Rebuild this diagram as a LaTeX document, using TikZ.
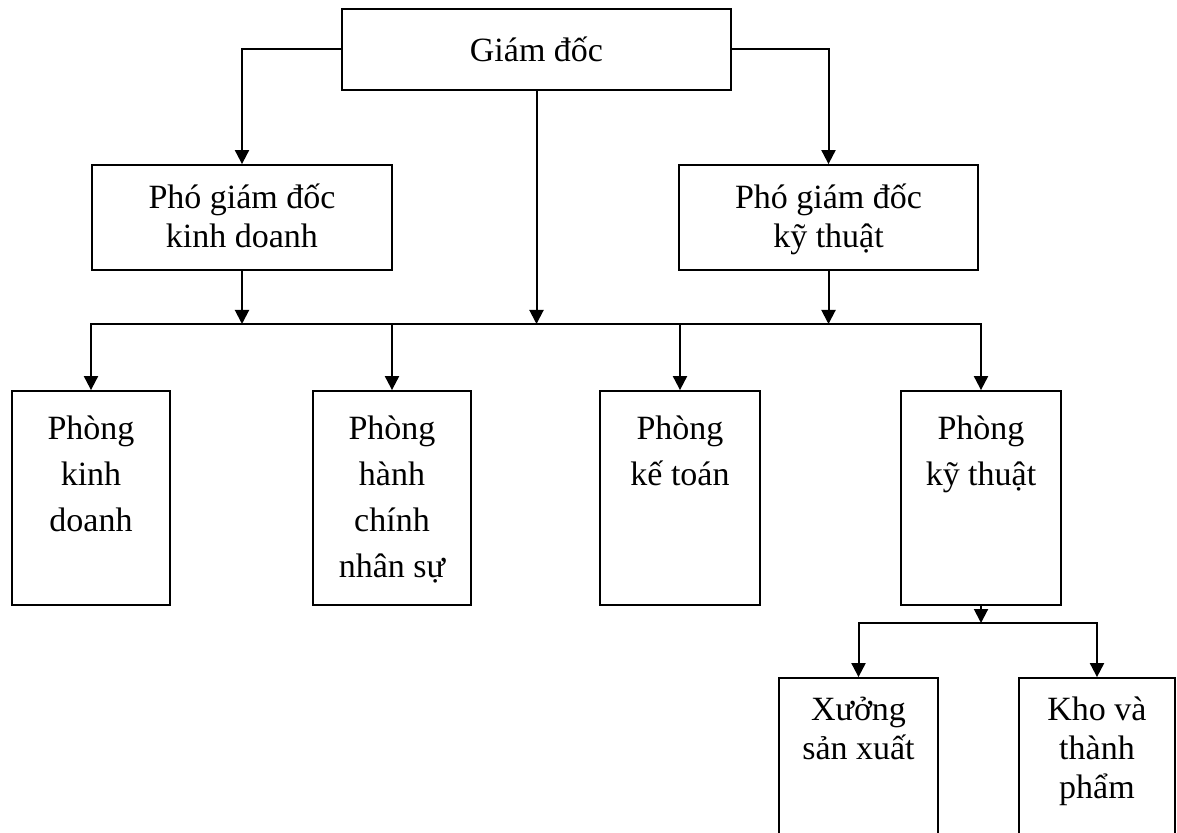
\documentclass[tikz,border=0pt]{standalone}
\usepackage{fontspec}
\setmainfont{Liberation Serif}
\usetikzlibrary{arrows.meta}

% text block hanging from the top of a box:
% #1 height, #2 width, #3 leading, #4 first baseline depth, #5 text
\newcommand{\toplabel}[5]{\parbox[c][#1][t]{#2}{\centering\fontsize{17}{#3}\selectfont\rule{0pt}{#4}#5}}

\tikzset{
  box/.style={draw, line width=0.9pt, inner sep=0pt, align=center,
              font=\fontsize{17}{19.5}\selectfont},
  frame/.style={draw, line width=0.9pt, inner sep=0pt},
  arr/.style={line width=1pt, -{Triangle[length=7pt,width=7pt]}},
  link/.style={line width=1pt, line cap=rect}
}

\begin{document}
\begin{tikzpicture}[x=0.5pt, y=-0.5pt]
  \useasboundingbox (0,0) rectangle (1177,833);
  \clip (0,0) rectangle (1177,833);

  % management
  \node[box, minimum width=194.5pt, minimum height=40.5pt] (gd) at (536.5,49.5) {Giám đốc};
  \node[frame] (pkd) at (242,217.5) {\toplabel{52.5pt}{150pt}{19.5pt}{22pt}{Phó giám đốc\\kinh doanh}};
  \node[frame] (pkt) at (828.5,217.5) {\toplabel{52.5pt}{149.5pt}{19.5pt}{22pt}{Phó giám đốc\\kỹ thuật}};

  % departments
  \node[frame] (d1) at (91,498)  {\toplabel{107pt}{79pt}{23pt}{24pt}{Phòng\\kinh\\doanh}};
  \node[frame] (d2) at (392,498) {\toplabel{107pt}{79pt}{23pt}{24pt}{Phòng\\hành\\chính\\nhân sự}};
  \node[frame] (d3) at (680,498) {\toplabel{107pt}{80pt}{23pt}{24pt}{Phòng\\kế toán}};
  \node[frame] (d4) at (981,498) {\toplabel{107pt}{80pt}{23pt}{24pt}{Phòng\\kỹ thuật}};

  % units under the technical department
  \node[frame] (xuong) at (858.5,789) {\toplabel{111pt}{79.5pt}{19.5pt}{21pt}{Xưởng\\sản xuất}};
  \node[frame] (kho) at (1097,789) {\toplabel{111pt}{78pt}{19.5pt}{21pt}{Kho và\\thành\\phẩm}};

  % bus levels
  \coordinate (bus) at (0,324);
  \coordinate (fork) at (0,623);

  % connectors
  \draw[arr] (gd.west) -| (pkd.north);
  \draw[arr] (gd.east) -| (pkt.north);
  \draw[arr] (gd.south) -- (gd.south |- bus);
  \draw[arr] (pkd.south) -- (pkd.south |- bus);
  \draw[arr] (pkt.south) -- (pkt.south |- bus);

  \draw[link] (d1.north |- bus) -- (d4.north |- bus);
  \foreach \d in {d1,d2,d3,d4}
    \draw[arr] (\d.north |- bus) -- (\d.north);

  \draw[arr] (d4.south) -- (d4.south |- fork);
  \draw[link] (xuong.north |- fork) -- (kho.north |- fork);
  \draw[arr] (xuong.north |- fork) -- (xuong.north);
  \draw[arr] (kho.north |- fork) -- (kho.north);
\end{tikzpicture}
\end{document}
